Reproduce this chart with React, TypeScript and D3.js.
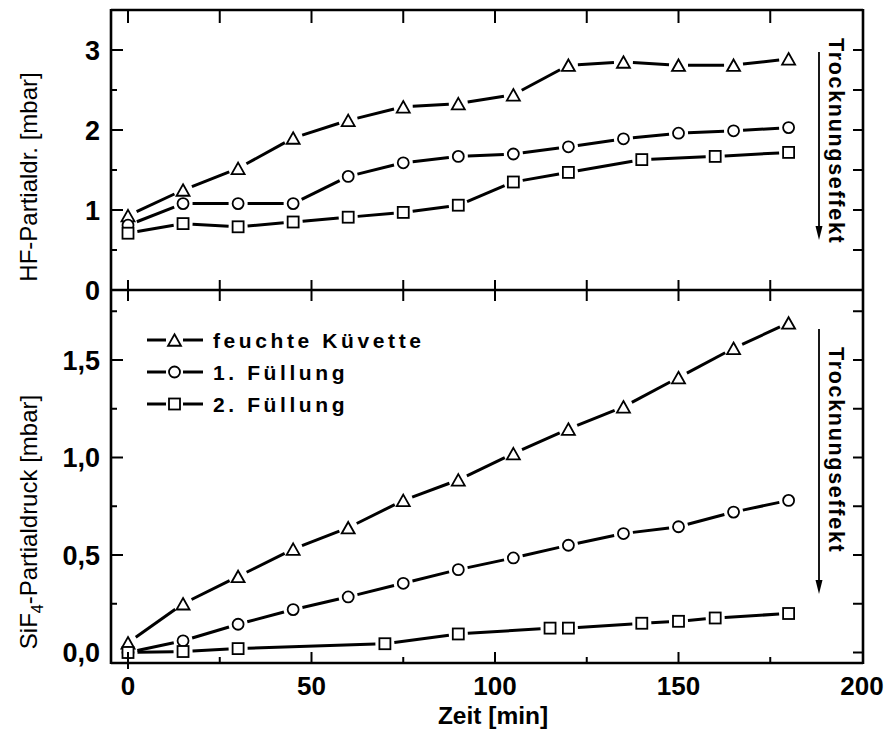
import React from "react";
import * as d3 from "d3";

// ---- data ----
const timeMain = [0, 15, 30, 45, 60, 75, 90, 105, 120, 135, 150, 165, 180];
const hfFeucht = [0.93, 1.25, 1.52, 1.9, 2.12, 2.29, 2.33, 2.44, 2.81, 2.85, 2.81, 2.81, 2.89];
const hfFuell1 = [0.81, 1.08, 1.08, 1.08, 1.42, 1.59, 1.67, 1.7, 1.79, 1.89, 1.96, 1.99, 2.03];
const hfFuell2Time = [0, 15, 30, 45, 60, 75, 90, 105, 120, 140, 160, 180];
const hfFuell2 = [0.71, 0.83, 0.79, 0.85, 0.91, 0.97, 1.06, 1.35, 1.47, 1.63, 1.67, 1.72];

const sifFeucht = [0.05, 0.25, 0.39, 0.53, 0.64, 0.78, 0.885, 1.02, 1.146, 1.26, 1.41, 1.56, 1.69];
const sifFuell1 = [0.0, 0.06, 0.145, 0.22, 0.285, 0.355, 0.425, 0.485, 0.55, 0.61, 0.645, 0.72, 0.78];
const sifFuell2Time = [0, 15, 30, 70, 90, 115, 120, 140, 150, 160, 180];
const sifFuell2 = [0.0, 0.005, 0.02, 0.045, 0.095, 0.125, 0.125, 0.15, 0.16, 0.177, 0.2];

const legendLabels = ["feuchte Küvette", "1. Füllung", "2. Füllung"];
const xTickLabels = ["0", "50", "100", "150", "200"];
const hfTickLabels = ["0", "1", "2", "3"];
const sifTickLabels = ["0,0", "0,5", "1,0", "1,5"];

const FONT = "'Liberation Sans', Arial, Helvetica, sans-serif";

type Shape = "tri" | "circ" | "sq";

function Marker({ x, y, shape }: { x: number; y: number; shape: Shape }) {
  const sw = 1.8;
  if (shape === "circ") return <circle cx={x} cy={y} r={5.5} fill="white" stroke="black" strokeWidth={sw} />;
  if (shape === "sq") return <rect x={x - 5.5} y={y - 5.5} width={11} height={11} fill="white" stroke="black" strokeWidth={sw} />;
  const h = 11.5, w = 13;
  const p = `M${x},${y - h / 2} L${x + w / 2},${y + h / 2} L${x - w / 2},${y + h / 2} Z`;
  return <path d={p} fill="white" stroke="black" strokeWidth={sw} strokeLinejoin="miter" />;
}

function Series({ xs, ys, sx, sy, shape }: { xs: number[]; ys: number[]; sx: any; sy: any; shape: Shape }) {
  const pts = xs.map((t, i) => [sx(t), sy(ys[i])] as [number, number]);
  const gap = 9.5;
  const segs: JSX.Element[] = [];
  for (let i = 0; i < pts.length - 1; i++) {
    const [x1, y1] = pts[i];
    const [x2, y2] = pts[i + 1];
    const dx = x2 - x1, dy = y2 - y1;
    const len = Math.hypot(dx, dy);
    if (len <= gap * 2 + 1) continue;
    const ux = dx / len, uy = dy / len;
    segs.push(
      <line key={i} x1={x1 + ux * gap} y1={y1 + uy * gap} x2={x2 - ux * gap} y2={y2 - uy * gap}
        stroke="black" strokeWidth={3} strokeLinecap="butt" />
    );
  }
  return (
    <g>
      {segs}
      {pts.map((p, i) => <Marker key={i} x={p[0]} y={p[1]} shape={shape} />)}
    </g>
  );
}

export default function App() {
  const W = 890, H = 731;
  const left = 111, right = 863, top = 10, mid = 290, bottom = 663;

  const x = d3.scaleLinear().domain([0, 200]).range([128, 862]);
  const yTop = d3.scaleLinear().domain([0, 3.5]).range([mid, top]);
  const yBot = d3.scaleLinear().domain([0, 1.5]).range([652.5, 360]);

  const xTicks = d3.range(0, 200, 25);
  const hfTicks = d3.range(0, 3.01, 0.5);
  const sifTicksL = d3.range(0.25, 1.76, 0.25);
  const sifTicksR = d3.range(0, 1.76, 0.25);

  const frameW = 2.6;
  const tickW = 2;

  return (
    <svg width={W} height={H} style={{ position: "absolute", left: 0, top: 0, background: "white" }}
      fontFamily={FONT}>
      <rect width={W} height={H} fill="white" />

      {/* series top */}
      <Series xs={timeMain} ys={hfFeucht} sx={x} sy={yTop} shape="tri" />
      <Series xs={timeMain} ys={hfFuell1} sx={x} sy={yTop} shape="circ" />
      <Series xs={hfFuell2Time} ys={hfFuell2} sx={x} sy={yTop} shape="sq" />

      {/* series bottom */}
      <Series xs={timeMain} ys={sifFeucht} sx={x} sy={yBot} shape="tri" />
      <Series xs={timeMain} ys={sifFuell1} sx={x} sy={yBot} shape="circ" />
      <Series xs={sifFuell2Time} ys={sifFuell2} sx={x} sy={yBot} shape="sq" />

      {/* frame */}
      <g stroke="black" strokeWidth={frameW} fill="none">
        <line x1={left} y1={top} x2={right} y2={top} />
        <line x1={left} y1={mid} x2={right} y2={mid} />
        <line x1={left} y1={bottom} x2={right} y2={bottom} />
        <line x1={left} y1={top - 1} x2={left} y2={bottom + 1} />
        <line x1={right} y1={top - 1} x2={right} y2={bottom + 1} />
      </g>

      {/* x ticks */}
      <g stroke="black" strokeWidth={tickW}>
        {xTicks.map((t) => (
          <g key={t}>
            <line x1={x(t)} x2={x(t)} y1={top} y2={top + 13} />
            <line x1={x(t)} x2={x(t)} y1={mid - 10} y2={mid + 11} />
            <line x1={x(t)} x2={x(t)} y1={bottom} y2={bottom - (t % 50 === 0 ? 11 : 6)} />
          </g>
        ))}
        <line x1={x(0)} x2={x(0)} y1={bottom} y2={bottom + 6} />
      </g>

      {/* y ticks */}
      <g stroke="black" strokeWidth={tickW}>
        {hfTicks.map((v) => (
          <g key={v}>
            <line x1={left} x2={left + (v % 1 === 0 ? 12 : 6)} y1={yTop(v)} y2={yTop(v)} />
            {v > 0 && <line x1={right} x2={right - 10} y1={yTop(v)} y2={yTop(v)} />}
          </g>
        ))}
        {sifTicksL.map((v) => (
          <line key={"l" + v} x1={left} x2={left + (Math.abs(v * 2 - Math.round(v * 2)) < 1e-6 ? 12 : 6)}
            y1={yBot(v)} y2={yBot(v)} />
        ))}
        {sifTicksR.map((v) => (
          <line key={"r" + v} x1={right} x2={right - 10} y1={yBot(v)} y2={yBot(v)} />
        ))}
      </g>

      {/* tick labels */}
      <g fontWeight="bold" fontSize={26} fill="black">
        {xTickLabels.map((s) => (
          <text key={s} x={x(+s)} y={695} textAnchor="middle">{s}</text>
        ))}
      </g>
      <g fontWeight="bold" fontSize={27} fill="black">
        {hfTickLabels.map((s) => (
          <text key={s} x={100} y={yTop(+s) + 9.5} textAnchor="end">{s}</text>
        ))}
        {sifTickLabels.map((s) => (
          <text key={s} x={100} y={yBot(+s.replace(",", ".")) + 9.5} textAnchor="end">{s}</text>
        ))}
      </g>

      {/* axis titles */}
      <text x={493} y={724} textAnchor="middle" fontWeight="bold" fontSize={24.5}>Zeit [min]</text>
      <text transform="translate(37,177) rotate(-90)" textAnchor="middle" fontSize={24}>HF-Partialdr. [mbar]</text>
      <text transform="translate(37,522) rotate(-90)" textAnchor="middle" fontSize={24}>
        SiF<tspan fontSize={16} dy={6}>4</tspan><tspan dy={-6}>-Partialdruck [mbar]</tspan>
      </text>

      {/* Trocknungseffekt annotations */}
      {[{ t: 38, a1: 52, a2: 240 }, { t: 347, a1: 329, a2: 594 }].map((o, i) => (
        <g key={i}>
          <text transform={`translate(829,${o.t}) rotate(90)`} fontWeight="bold" fontSize={21.5} letterSpacing={1.7}>
            Trocknungseffekt
          </text>
          <line x1={819} x2={819} y1={o.a1} y2={o.a2 - 10} stroke="black" strokeWidth={1.8} />
          <path d={`M815.5,${o.a2 - 14} L822.5,${o.a2 - 14} L819,${o.a2} Z`} fill="black" />
        </g>
      ))}

      {/* legend */}
      {legendLabels.map((lab, i) => {
        const cy = 340 + i * 32;
        const shape: Shape = i === 0 ? "tri" : i === 1 ? "circ" : "sq";
        return (
          <g key={lab}>
            <line x1={147} x2={166} y1={cy} y2={cy} stroke="black" strokeWidth={3} />
            <line x1={183} x2={203} y1={cy} y2={cy} stroke="black" strokeWidth={3} />
            <Marker x={174.5} y={cy} shape={shape} />
            <text x={213} y={cy + 8} fontWeight="bold" fontSize={21} letterSpacing={3.6}>{lab}</text>
          </g>
        );
      })}
    </svg>
  );
}
